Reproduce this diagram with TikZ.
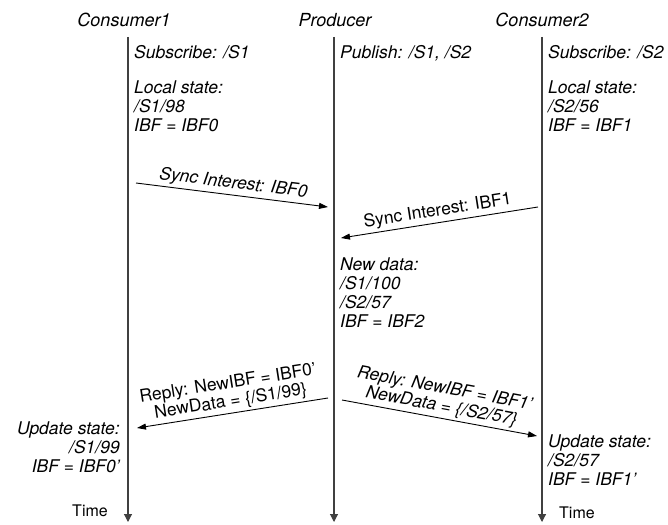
\documentclass[tikz,border=0pt]{standalone}
\usepackage{fontspec}
\setmainfont{TeX Gyre Heros}
\usetikzlibrary{arrows.meta}
\begin{document}
\begin{tikzpicture}[x=1pt,y=-1pt,
  lifeline/.style={line width=1.1pt, black!75, -{Triangle[length=8pt,width=8pt]}},
  msg/.style={line width=0.9pt, black, -{Triangle[length=9pt,width=6pt]}},
  title/.style={font=\fontsize{18}{20}\selectfont\itshape, inner sep=0pt},
  note/.style={font=\fontsize{17.5}{19}\selectfont\itshape, inner sep=0pt, align=left},
  upnote/.style={font=\fontsize{16}{19}\selectfont, inner sep=0pt},
  mlabel/.style={sloped, above, inner sep=2.5pt, align=center, font=\fontsize{17.5}{18}\selectfont},
  ilabel/.style={mlabel, font=\fontsize{17.5}{18}\selectfont\itshape}]
\useasboundingbox (0,0) rectangle (668,524);
% titles
\node[title] (t1) at (124,20) {Consumer1};
\node[title] (t2) at (335,20) {Producer};
\node[title] (t3) at (542,20) {Consumer2};
% lifelines
\coordinate (c1top) at (128,37); \coordinate (c1bot) at (128,522);
\coordinate (ptop) at (334,37); \coordinate (pbot) at (334,522);
\coordinate (c2top) at (542,37); \coordinate (c2bot) at (542,522);
\draw[lifeline] (c1top) -- (c1bot);
\draw[lifeline] (ptop) -- (pbot);
\draw[lifeline] (c2top) -- (c2bot);
% notes
\node[note, anchor=base west] (n1) at (134,59) {Subscribe: /S1};
\node[note, anchor=north west] (n2) at (134,81) {Local state:\\/S1/98\\IBF = IBF0};
\node[note, anchor=base west] (n3) at (340,59) {Publish: /S1, /S2};
\node[note, anchor=base west] (n4) at (548,59) {Subscribe: /S2};
\node[note, anchor=north west] (n5) at (548,81) {Local state:\\/S2/56\\IBF = IBF1};
\node[note, anchor=north west] (n6) at (340,258) {New data:\\/S1/100\\/S2/57\\IBF = IBF2};
\node[note, anchor=north east, align=right] (n7) at (120,422) {Update state:\\/S1/99\\IBF = IBF0’};
\node[note, anchor=north west] (n8) at (548,435) {Update state:\\/S2/57\\IBF = IBF1’};
\node[upnote, anchor=east] (time1) at (108,511) {Time};
\node[upnote, anchor=west] (time2) at (559,513) {Time};
% messages
\coordinate (m1a) at (136,183); \coordinate (m1b) at (328,207);
\coordinate (m2a) at (538,207); \coordinate (m2b) at (341,238);
\coordinate (m3a) at (328,398); \coordinate (m3b) at (137,428);
\coordinate (m4a) at (342,400); \coordinate (m4b) at (537,436);
\draw[msg] (m1a) -- node[ilabel] {Sync Interest: IBF0} (m1b);
\draw[msg] (m2a) -- node[mlabel] {Sync Interest: IBF1} (m2b);
\draw[msg] (m3a) -- node[mlabel] {Reply: NewIBF = IBF0’\\NewData = \{/S1/99\}} (m3b);
\draw[msg] (m4a) -- node[ilabel] {Reply: NewIBF = IBF1’\\NewData = \{/S2/57\}} (m4b);
\end{tikzpicture}
\end{document}
